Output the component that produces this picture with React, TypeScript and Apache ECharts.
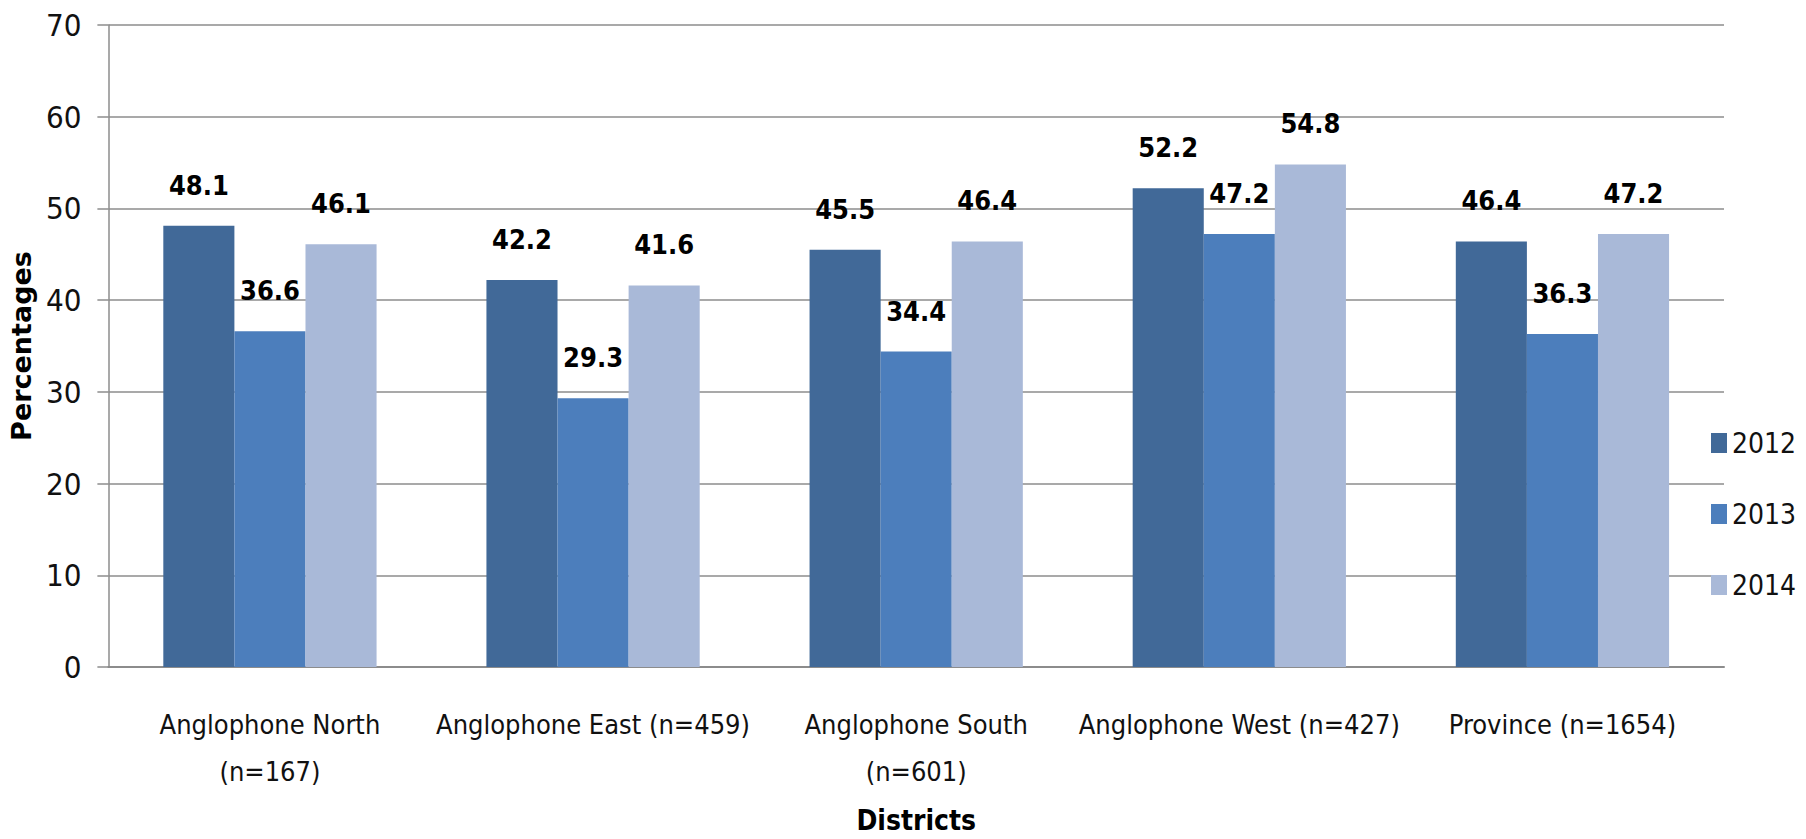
import React, { useEffect, useRef } from "react";
import * as echarts from "echarts";

const categories = [
  "Anglophone North\n(n=167)",
  "Anglophone East (n=459)",
  "Anglophone South\n(n=601)",
  "Anglophone West (n=427)",
  "Province (n=1654)",
];
const seriesNames = ["2012", "2013", "2014"];
const values2012 = [48.1, 42.2, 45.5, 52.2, 46.4];
const values2013 = [36.6, 29.3, 34.4, 47.2, 36.3];
const values2014 = [46.1, 41.6, 46.4, 54.8, 47.2];
const yTicks = { min: 0, max: 70, interval: 10 };

const colors = ["#416998", "#4C7EBC", "#A9B9D8"];
const narrow = "'Liberation Sans Narrow', 'DejaVu Sans Condensed', 'Liberation Sans', sans-serif";

export default function App() {
  const ref = useRef<HTMLDivElement>(null);
  useEffect(() => {
    document.body.style.margin = "0";
    const chart = echarts.init(ref.current!, null, { renderer: "svg" });
    const all = [values2012, values2013, values2014];
    chart.setOption({
      animation: false,
      backgroundColor: "#ffffff",
      grid: { left: 107, right: 82, top: 25, bottom: 171, containLabel: false },
      legend: {
        orient: "vertical",
        left: 1706,
        top: 424,
        itemWidth: 16,
        itemHeight: 20,
        itemGap: 43,
        icon: "rect",
        data: seriesNames,
        textStyle: { fontFamily: narrow, fontSize: 28, color: "#111" },
      },
      xAxis: {
        type: "category",
        data: categories,
        name: "Districts",
        nameLocation: "middle",
        nameGap: 139,
        nameTextStyle: { fontFamily: narrow, fontSize: 28, fontWeight: "bold", color: "#000" },
        axisLine: { lineStyle: { color: "#8c8c8c", width: 2 } },
        axisTick: { show: false },
        axisLabel: {
          interval: 0,
          margin: 34,
          fontFamily: narrow,
          fontSize: 27,
          lineHeight: 47,
          color: "#111",
        },
      },
      yAxis: {
        type: "value",
        min: yTicks.min,
        max: yTicks.max,
        interval: yTicks.interval,
        name: "Percentages",
        nameLocation: "middle",
        nameGap: 70,
        nameTextStyle: { fontFamily: "'DejaVu Sans', sans-serif", fontSize: 27, fontWeight: "bold", color: "#000" },
        axisLine: { show: true, lineStyle: { color: "#8c8c8c", width: 1.5 } },
        axisTick: { show: true, length: 11, lineStyle: { color: "#8c8c8c", width: 1.5 } },
        axisLabel: { margin: 27, fontFamily: narrow, fontSize: 31, color: "#111" },
        splitLine: { lineStyle: { color: "#8c8c8c", width: 1.5 } },
      },
      series: seriesNames.map((n, i) => ({
        name: n,
        type: "bar",
        data: all[i],
        barGap: "0%",
        barCategoryGap: "34%",
        itemStyle: { color: colors[i] },
        label: {
          show: true,
          position: "top",
          distance: 27,
          fontFamily: narrow,
          fontSize: 27,
          fontWeight: "bold",
          color: "#000",
          formatter: (p: any) => p.value.toFixed(1),
        },
      })),
    });
    return () => chart.dispose();
  }, []);
  return <div ref={ref} style={{ width: 1806, height: 839 }} />;
}
